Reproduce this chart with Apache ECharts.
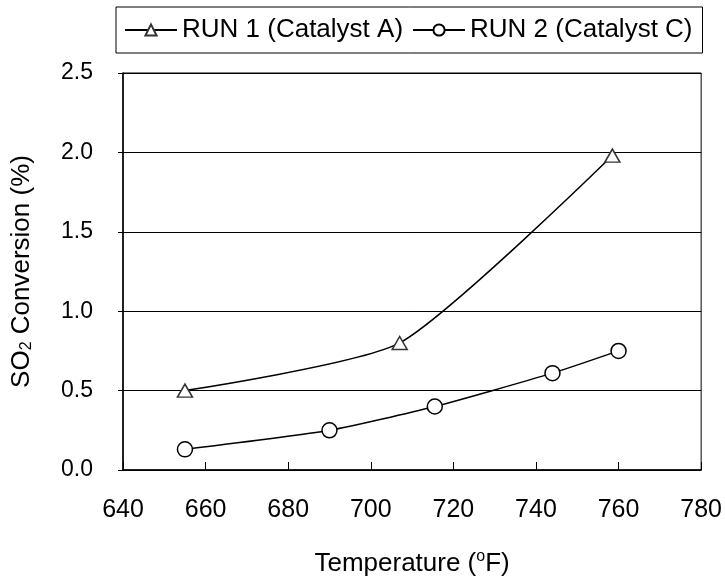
<!DOCTYPE html>
<html>
<head>
<meta charset="utf-8">
<script src="https://cdn.jsdelivr.net/npm/echarts@6/dist/echarts.min.js"></script>
<style>
  html, body { margin: 0; padding: 0; background: #fff; }
  #chart { width: 725px; height: 582px; }
</style>
</head>
<body>
<div id="chart"></div>
<script>
// values
const run1Temps = [655, 707, 758.5];
const run1Conv = [0.5, 0.8, 1.98];
const run2Temps = [655, 690, 715.5, 744, 760];
const run2Conv = [0.13, 0.25, 0.4, 0.61, 0.75];
const seriesNames = ["RUN 1 (Catalyst A)", "RUN 2 (Catalyst C)"];

const font = "'Liberation Sans', Arial, sans-serif";

const pairs = (xs, ys) => xs.map((x, i) => [x, ys[i]]);

const chart = echarts.init(document.getElementById("chart"));
chart.setOption({
  backgroundColor: "#fff",
  animation: false,
  textStyle: { fontFamily: font, color: "#000" },
  grid: {
    left: 123, right: 21, top: 73, bottom: 108,
    show: true, borderColor: "#000", borderWidth: 1
  },
  legend: {
    left: 116, top: 7,
    padding: [10, 10, 10, 8],
    borderColor: "#000", borderWidth: 1,
    itemWidth: 52, itemHeight: 14, itemGap: 9,
    textStyle: { fontFamily: font, fontSize: 26, color: "#000" },
    data: seriesNames
  },
  xAxis: {
    type: "value", min: 640, max: 780, interval: 20,
    name: "{a|Temperature (}{s|o}{a|F)}",
    nameLocation: "middle", nameGap: 79,
    nameTextStyle: {
      rich: {
        a: { fontFamily: font, fontSize: 26, color: "#000" },
        s: { fontFamily: font, fontSize: 16, color: "#000", verticalAlign: "top", lineHeight: 30 }
      }
    },
    axisLine: { lineStyle: { color: "#000", width: 1.5 } },
    axisTick: { inside: true, length: 8, lineStyle: { color: "#000" } },
    axisLabel: { fontFamily: font, fontSize: 25, color: "#000", margin: 28 },
    splitLine: { show: false }
  },
  yAxis: {
    type: "value", min: 0, max: 2.5, interval: 0.5,
    name: "{a|SO}{s|2}{a| Conversion (%)}",
    nameLocation: "middle", nameGap: 88,
    nameTextStyle: {
      rich: {
        a: { fontFamily: font, fontSize: 26, color: "#000" },
        s: { fontFamily: font, fontSize: 16, color: "#000", verticalAlign: "bottom", lineHeight: 26 }
      }
    },
    axisLine: { show: true, lineStyle: { color: "#000", width: 1.5 } },
    axisTick: { show: true, length: 5, lineStyle: { color: "#000" } },
    axisLabel: {
      fontFamily: font, fontSize: 23, color: "#000", margin: 30,
      formatter: v => v.toFixed(1)
    },
    splitLine: { show: true, lineStyle: { color: "#000", width: 1 } }
  },
  series: [
    {
      name: seriesNames[0],
      type: "line",
      smooth: 0.2,
      data: pairs(run1Temps, run1Conv),
      symbol: "triangle",
      symbolSize: [15, 13],
      lineStyle: { color: "#000", width: 1.5 },
      itemStyle: { color: "#fff", borderColor: "#333", borderWidth: 1.5 }
    },
    {
      name: seriesNames[1],
      type: "line",
      smooth: 0.2,
      data: pairs(run2Temps, run2Conv),
      symbol: "circle",
      symbolSize: 15,
      lineStyle: { color: "#000", width: 1.5 },
      itemStyle: { color: "#fff", borderColor: "#000", borderWidth: 1.5 }
    }
  ]
});
</script>
</body>
</html>
